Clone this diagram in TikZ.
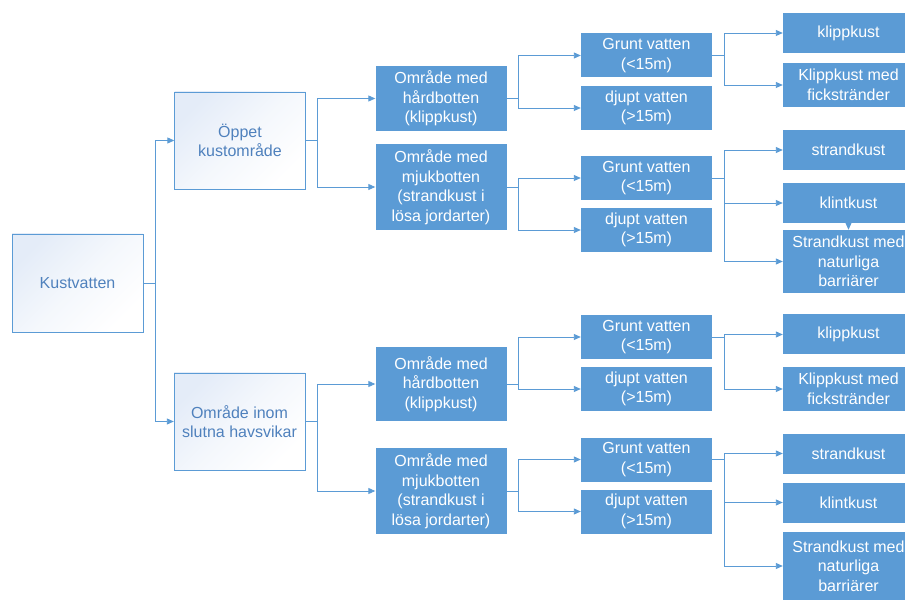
\documentclass[tikz,border=0pt]{standalone}
\usepackage{fontspec}
\setmainfont{Liberation Sans}
\usetikzlibrary{arrows.meta}
\definecolor{kustblue}{RGB}{91,155,213}
\definecolor{kusttext}{RGB}{79,129,189}
\definecolor{kustlight}{RGB}{228,236,248}
\begin{document}
\begin{tikzpicture}[x=1pt,y=-1pt,
		align=center,
		font=\fontsize{16}{19.5}\selectfont,
		light/.style={draw=kustblue,top color=kustlight,bottom color=white,middle color=white!60!kustlight,
			shading angle=45,text=kusttext,minimum width=131pt,inner sep=2pt},
		dark/.style={fill=kustblue,text=white,minimum width=131pt,inner sep=2pt},
		link/.style={draw=kustblue,line width=0.9pt,-{Triangle[length=7pt,width=6pt]}}]
		\path[use as bounding box,clip] (0,0) rectangle (905,601);
		
		\node[light,minimum height=98pt] (kust) at (77.5,283) {Kustvatten};
		\node[light,minimum height=97pt] (oppet) at (240,140.5) {Öppet\\kustområde};
		\node[light,minimum height=97pt] (inom) at (239.5,421.5) {Område inom\\slutna havsvikar};
		
		\node[dark,minimum height=65pt] (hard1) at (441,98.5) {Område med\\hårdbotten\\(klippkust)};
		\node[dark,minimum height=86pt] (mjuk1) at (441,187) {Område med\\mjukbotten\\(strandkust i\\lösa jordarter)};
		\node[dark,minimum height=74pt] (hard2) at (441,384) {Område med\\hårdbotten\\(klippkust)};
		\node[dark,minimum height=86pt] (mjuk2) at (441,491) {Område med\\mjukbotten\\(strandkust i\\lösa jordarter)};
		
		\foreach \n/\y in {1/55.5,2/178,3/337,4/459.5}
			\node[dark,minimum height=44pt] (grunt\n) at (646.5,\y) {Grunt vatten\\(<15m)};
		\foreach \n/\y in {1/108,2/230,3/389,4/511.5}
			\node[dark,minimum height=44pt] (djupt\n) at (646.5,\y) {djupt vatten\\(>15m)};
		
		\node[dark,minimum height=40pt] (klipp1) at (848.5,33) {klippkust};
		\node[dark,minimum height=44pt] (fick1) at (848.5,85) {Klippkust med\\fickstränder};
		\node[dark,minimum height=40pt] (strand1) at (848.5,150) {strandkust};
		\node[dark,minimum height=40pt] (klint1) at (848.5,203) {klintkust};
		\node[dark,minimum height=63pt] (nat1) at (848.5,261.5) {Strandkust med\\naturliga\\barriärer};
		\node[dark,minimum height=40pt] (klipp3) at (848.5,334.5) {klippkust};
		\node[dark,minimum height=44pt] (fick3) at (848.5,389) {Klippkust med\\fickstränder};
		\node[dark,minimum height=40pt] (strand3) at (848.5,453.5) {strandkust};
		\node[dark,minimum height=40pt] (klint3) at (848.5,502.5) {klintkust};
		\node[dark,minimum height=68pt] (nat3) at (848.5,566) {Strandkust med\\naturliga\\barriärer};
		
		\foreach \p/\c in {kust/oppet,kust/inom,oppet/hard1,oppet/mjuk1,inom/hard2,inom/mjuk2,
			hard1/grunt1,hard1/djupt1,mjuk1/grunt2,mjuk1/djupt2,hard2/grunt3,hard2/djupt3,
			mjuk2/grunt4,mjuk2/djupt4,grunt1/klipp1,grunt1/fick1,grunt2/strand1,grunt2/klint1,
			grunt2/nat1,grunt3/klipp3,grunt3/fick3,grunt4/strand3,grunt4/klint3,grunt4/nat3}
			\draw[link] (\p.east) -- ++(12,0) |- (\c.west);
		\draw[link] (klint1.south) -- (nat1.north);
\end{tikzpicture}
\end{document}
